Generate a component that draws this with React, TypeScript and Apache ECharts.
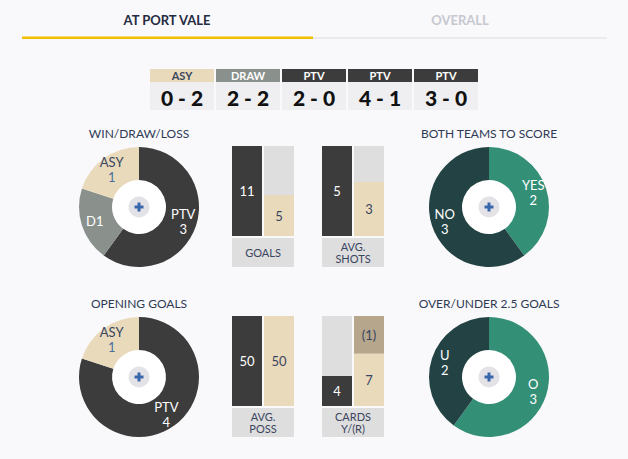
import React, { useEffect, useRef } from 'react';
import * as echarts from 'echarts';

// ---- data ----
const tabs = ['AT PORT VALE', 'OVERALL'];
const resultSides = ['ASY', 'DRAW', 'PTV', 'PTV', 'PTV'];
const resultScores = ['0 - 2', '2 - 2', '2 - 0', '4 - 1', '3 - 0'];

const wdlNames = ['PTV', 'D', 'ASY'];
const wdlValues = [3, 1, 1];
const bttsNames = ['YES', 'NO'];
const bttsValues = [2, 3];
const openingNames = ['PTV', 'ASY'];
const openingValues = [4, 1];
const ouNames = ['O', 'U'];
const ouValues = [3, 2];

const teams = ['PTV', 'ASY'];
const goals = [11, 5];
const avgShots = [5, 3];
const avgPoss = [50, 50];
const yellowCards = [4, 7];
const redCards = [0, 1];

// ---- style ----
const FONT = 'Lato, "Noto Sans", sans-serif';
const BG = '#f9f9fb';
const DARK = '#3c3c3c';
const TAN = '#e9dabb';
const GREY = '#8a918c';
const RED_CARD = '#b5a68c';
const TEAL_DARK = '#234244';
const TEAL = '#348f77';
const NAVY = '#2f3a55';
const SLATE = '#4a6e9c';
const BAR_BG = '#dedede';

const sideColor: Record<string, string> = { ASY: TAN, DRAW: GREY, PTV: DARK };
const sideText: Record<string, string> = { ASY: '#3a4560', DRAW: '#ffffff', PTV: '#ffffff' };

const sliceColor: Record<string, string> = {
  PTV: DARK, D: GREY, ASY: TAN, YES: TEAL, NO: TEAL_DARK, O: TEAL, U: TEAL_DARK,
};

function donut(names: string[], values: number[], cx: number, cy: number) {
  return {
    type: 'pie',
    center: [cx, cy],
    radius: [27, 60],
    startAngle: 90,
    clockwise: true,
    avoidLabelOverlap: false,
    labelLine: { show: false },
    emphasis: { disabled: true },
    data: names.map((n, i) => ({
      name: n,
      value: values[i],
      itemStyle: { color: sliceColor[n] },
    })),
    label: {
      show: true,
      position: 'inside',
      fontFamily: FONT,
      fontSize: 13,
      lineHeight: 15,
      formatter: (p: any) => {
        if (p.name === 'D') return `{w|D${p.value}}`;
        if (p.name === 'ASY') return `{n|${p.name}}\n{v|${p.value}}`;
        return `{w|${p.name}}\n{w|${p.value}}`;
      },
      rich: {
        w: { color: '#ffffff', fontFamily: FONT, fontSize: 13, lineHeight: 15 },
        n: { color: '#3a4560', fontFamily: FONT, fontSize: 13, lineHeight: 15 },
        v: { color: SLATE, fontFamily: FONT, fontSize: 13, lineHeight: 15 },
      },
    },
    z: 2,
  };
}

function centreButton(cx: number, cy: number) {
  return [
    { type: 'circle', shape: { cx, cy, r: 27 }, style: { fill: '#ffffff' }, z: 1 },
    { type: 'circle', shape: { cx, cy, r: 10.5 }, style: { fill: '#e3e3e7' }, z: 10 },
    { type: 'rect', shape: { x: cx - 4.5, y: cy - 1.5, width: 9, height: 3 }, style: { fill: '#3a66ac' }, z: 11 },
    { type: 'rect', shape: { x: cx - 1.5, y: cy - 4.5, width: 3, height: 9 }, style: { fill: '#3a66ac' }, z: 11 },
  ];
}

function title(text: string, x: number, y: number) {
  return {
    type: 'text',
    x, y,
    style: {
      text, fill: NAVY, font: `12px ${FONT}`, textAlign: 'center', textVerticalAlign: 'middle',
    },
  };
}

// grey caption block under each bar pair; two-line captions are two texts
function captionBox(lines: string[], x: number, y: number) {
  const items: any[] = [
    { type: 'rect', shape: { x, y, width: 62, height: 29 }, style: { fill: BAR_BG } },
  ];
  const step = 11.5;
  const first = y + 14.5 - ((lines.length - 1) * step) / 2;
  lines.forEach((line, k) => {
    items.push({
      type: 'text', x: x + 31, y: first + k * step,
      style: {
        text: line, fill: '#3a4560', font: `11px ${FONT}`, textAlign: 'center',
        textVerticalAlign: 'middle',
      },
    });
  });
  return items;
}

const barLabel = (color: string) => ({
  show: true, position: 'inside', color, fontFamily: FONT, fontSize: 13,
});

export default function App() {
  const ref = useRef<HTMLDivElement>(null);

  useEffect(() => {
    document.body.style.margin = '0';
    const chart = echarts.init(ref.current!, undefined, { renderer: 'svg' });

    const panels = [
      { left: 231, top: 146 },
      { left: 321, top: 146 },
      { left: 231, top: 316 },
      { left: 321, top: 316 },
    ];
    const cardsMax = yellowCards[0] + yellowCards[1] + redCards[0] + redCards[1];
    const maxes = [Math.max(...goals), Math.max(...avgShots), Math.max(...avgPoss), cardsMax];

    const grids = panels.map((p) => ({ left: p.left, top: p.top, width: 64, height: 90 }));
    const xAxes = panels.map((_, i) => ({ type: 'category', gridIndex: i, data: teams, show: false }));
    const yAxes = panels.map((_, i) => ({ type: 'value', gridIndex: i, min: 0, max: maxes[i], show: false }));

    const pairSeries = (vals: number[], i: number) => ({
      type: 'bar',
      xAxisIndex: i,
      yAxisIndex: i,
      barWidth: 30,
      showBackground: true,
      backgroundStyle: { color: BAR_BG },
      emphasis: { disabled: true },
      data: [
        { value: vals[0], itemStyle: { color: DARK }, label: barLabel('#ffffff') },
        { value: vals[1], itemStyle: { color: TAN }, label: barLabel('#3a4560') },
      ],
    });

    const graphics: any[] = [
      // tabs
      {
        type: 'text', x: 167, y: 20,
        style: { text: tabs[0], fill: '#252b40', font: `bold 13px ${FONT}`, textAlign: 'center', textVerticalAlign: 'middle' },
      },
      {
        type: 'text', x: 460, y: 20,
        style: { text: tabs[1], fill: '#c6c8d0', font: `bold 13px ${FONT}`, textAlign: 'center', textVerticalAlign: 'middle' },
      },
      { type: 'rect', shape: { x: 313, y: 37, width: 294, height: 2 }, style: { fill: '#ebebef' } },
      { type: 'rect', shape: { x: 22, y: 36.5, width: 291, height: 2.5 }, style: { fill: '#f0bf00' } },
      // section titles
      title('WIN/DRAW/LOSS', 139, 133),
      title('BOTH TEAMS TO SCORE', 489, 133),
      title('OPENING GOALS', 139, 303),
      title('OVER/UNDER 2.5 GOALS', 489, 303),
      ...captionBox(['GOALS'], 232, 238),
      ...captionBox(['AVG.', 'SHOTS'], 322, 238),
      ...captionBox(['AVG.', 'POSS'], 232, 408),
      ...captionBox(['CARDS', 'Y/(R)'], 322, 408),
      ...centreButton(139, 207),
      ...centreButton(489, 207),
      ...centreButton(139, 377),
      ...centreButton(489, 377),
    ];

    // recent results strip
    resultSides.forEach((side, i) => {
      const x = 150 + i * 66;
      graphics.push(
        { type: 'rect', shape: { x, y: 69, width: 64, height: 13 }, style: { fill: sideColor[side] } },
        {
          type: 'text', x: x + 32, y: 75.5,
          style: { text: side, fill: sideText[side], font: `bold 11px ${FONT}`, textAlign: 'center', textVerticalAlign: 'middle' },
        },
        { type: 'rect', shape: { x, y: 82, width: 64, height: 28 }, style: { fill: '#efeff1' } },
        {
          type: 'text', x: x + 32, y: 97,
          style: { text: resultScores[i], fill: '#111111', font: `900 21px ${FONT}`, textAlign: 'center', textVerticalAlign: 'middle' },
        },
      );
    });

    chart.setOption({
      animation: false,
      backgroundColor: BG,
      grid: grids,
      xAxis: xAxes,
      yAxis: yAxes,
      graphic: graphics,
      series: [
        donut(wdlNames, wdlValues, 139, 207),
        donut(bttsNames, bttsValues, 489, 207),
        donut(openingNames, openingValues, 139, 377),
        donut(ouNames, ouValues, 489, 377),
        pairSeries(goals, 0),
        pairSeries(avgShots, 1),
        pairSeries(avgPoss, 2),
        {
          type: 'bar',
          xAxisIndex: 3,
          yAxisIndex: 3,
          barWidth: 30,
          stack: 'cards',
          showBackground: true,
          backgroundStyle: { color: BAR_BG },
          emphasis: { disabled: true },
          data: [
            { value: yellowCards[0], itemStyle: { color: DARK }, label: barLabel('#ffffff') },
            { value: yellowCards[1], itemStyle: { color: TAN }, label: barLabel('#3a4560') },
          ],
        },
        {
          // red-card block fills the rest of the away column
          type: 'bar',
          xAxisIndex: 3,
          yAxisIndex: 3,
          barWidth: 30,
          stack: 'cards',
          emphasis: { disabled: true },
          data: [
            '-',
            {
              value: cardsMax - yellowCards[1],
              itemStyle: { color: RED_CARD },
              label: { ...barLabel('#3a4560'), formatter: `(${redCards[1]})` },
            },
          ],
        },
      ],
    });

    return () => chart.dispose();
  }, []);

  return <div ref={ref} style={{ width: 628, height: 459 }} />;
}
